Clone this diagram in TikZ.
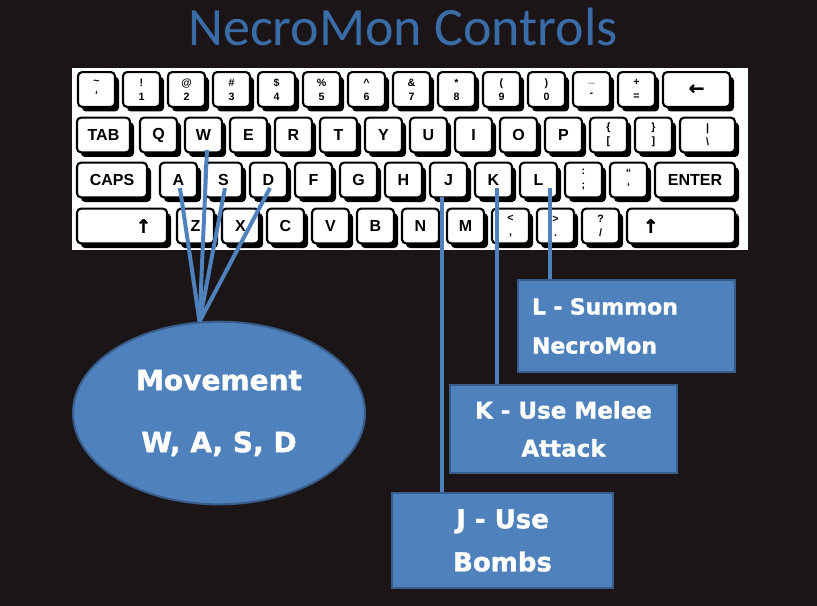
\documentclass[tikz,border=0pt]{standalone}
\usepackage{fontspec}
\setmainfont{Liberation Sans}
\newfontfamily\titlefont{Carlito}
\newfontfamily\labelfont{DejaVu Sans Bold}[FakeBold=1.3]
\usetikzlibrary{shapes.geometric,shadows}
\definecolor{bgdark}{RGB}{27,21,23}
\definecolor{officeblue}{RGB}{79,129,189}
\definecolor{officeedge}{RGB}{56,93,138}
\definecolor{titleblue}{RGB}{58,108,168}
\begin{document}
\begin{tikzpicture}[x=0.75pt, y=-0.75pt,
    keycap/.style={rectangle, rounded corners=3pt, draw=black, line width=1.6pt,
      fill=white, minimum width=27.75pt, minimum height=26pt, inner sep=1pt,
      font=\bfseries\fontsize{12}{12}\selectfont,
      drop shadow={shadow xshift=3pt, shadow yshift=-3.5pt, opacity=1, fill=black}},
    pair/.style={align=center, font=\bfseries\fontsize{8}{10.5}\selectfont},
    infobox/.style={rectangle, fill=officeblue, draw=officeedge, line width=1.5pt,
      text=white},
    link/.style={draw=officeblue, line width=3pt}
  ]
    % Fondo y titulo
    \fill[bgdark] (0,0) rectangle (817,606);
    \node[font=\titlefont\fontsize{40.5}{40.5}\selectfont, text=titleblue,
      anchor=base] (title) at (403,46) {NecroMon Controls};
    \fill[white] (72,68) rectangle (748,250);

    % Fila 1
    \foreach \up/\dn [count=\i from 0] in {\textasciitilde/`, !/1, @/2, \#/3,
      \$/4, \%/5, \textasciicircum/6, \&/7, */8, {(}/9, {)}/0, \_/-, +/=}
      \node[keycap, pair] (num\i) at ({96.5+45*\i}, 89.5) {\up\\\dn};
    \node[keycap, minimum width=50.25pt,
      font=\labelfont\fontsize{14}{14}\selectfont] (back) at (696.5,89.5) {←};

    % Fila 2
    \node[keycap, minimum width=39.75pt] (tab) at (103.5,135) {TAB};
    \foreach \l [count=\i from 0] in {Q,W,E,R,T,Y,U,I,O,P}
      \node[keycap] (key\l) at ({158.5+45*\i}, 135) {\l};
    \node[keycap, pair] (brkopen) at (608.5,135) {\{\\{[}};
    \node[keycap, pair] (brkclose) at (653.5,135) {\}\\{]}};
    \node[keycap, pair, minimum width=41.25pt] (bslash) at (707.5,135)
      {|\\\textbackslash};

    % Fila 3
    \node[keycap, minimum width=52.5pt] (caps) at (112,180) {CAPS};
    \foreach \l [count=\i from 0] in {A,S,D,F,G,H,J,K,L}
      \node[keycap] (key\l) at ({178.5+45*\i}, 180) {\l};
    \node[keycap, pair] (colon) at (583.5,180) {:\\;};
    \node[keycap, pair] (quote) at (628.5,180) {“\\‘};
    \node[keycap, minimum width=60pt] (enter) at (695,180) {ENTER};

    % Fila 4
    \node[keycap, minimum width=67.5pt, text width=44pt, align=right,
      font=\labelfont\fontsize{14}{14}\selectfont] (lshift) at (122,226) {↑};
    \foreach \l [count=\i from 0] in {Z,X,C,V,B,N,M}
      \node[keycap] (key\l) at ({195.5+45*\i}, 226) {\l};
    \node[keycap, pair] (less) at (510.5,226) {<\\,};
    \node[keycap, pair] (more) at (555.5,226) {>\\.};
    \node[keycap, pair] (slash) at (600.5,226) {?\\/};
    \node[keycap, minimum width=81pt, text width=57pt, align=left,
      font=\labelfont\fontsize{14}{14}\selectfont] (rshift) at (681,226) {↑};

    % Acciones
    \node[ellipse, fill=officeblue, draw=officeedge, line width=1.5pt,
      minimum width=219pt, minimum height=137pt, inner sep=0pt, align=center,
      text=white, font=\labelfont\fontsize{21}{46.5}\selectfont]
      (move) at (219,413) {Movement\\W, A, S, D};
    \node[infobox, text width=141.75pt, inner sep=10.5pt, minimum height=69pt,
      align=left, font=\labelfont\fontsize{16.5}{29.25}\selectfont]
      (summon) at (626.5,326) {L - Summon\\NecroMon};
    \node[infobox, minimum width=170.25pt, minimum height=66pt, align=center,
      font=\labelfont\fontsize{17.25}{28.5}\selectfont]
      (melee) at (563.5,429) {K - Use Melee\\Attack};
    \node[infobox, minimum width=165.75pt, minimum height=71.25pt, align=center,
      font=\labelfont\fontsize{19.5}{32.25}\selectfont]
      (bombs) at (502.5,540.5) {J - Use\\Bombs};

    % Conexiones
    \draw[link] ([xshift=2.6pt, yshift=-11.25pt]keyW.center) -- (move.102);
    \draw[link] ([xshift=1.1pt, yshift=-6pt]keyA.center) -- (move.102);
    \draw[link] ([xshift=1.1pt, yshift=-6pt]keyS.center) -- (move.102);
    \draw[link] ([xshift=1.1pt, yshift=-6pt]keyD.center) -- (move.102);
    \draw[link] ([xshift=-4.9pt, yshift=-12.75pt]keyJ.center) coordinate (jtop)
      -- (jtop |- bombs.north);
    \draw[link] ([xshift=2.6pt, yshift=-6pt]keyK.center) coordinate (ktop)
      -- (ktop |- melee.north);
    \draw[link] ([xshift=8.6pt, yshift=-6pt]keyL.center) coordinate (ltop)
      -- (ltop |- summon.north);
\end{tikzpicture}
\end{document}
